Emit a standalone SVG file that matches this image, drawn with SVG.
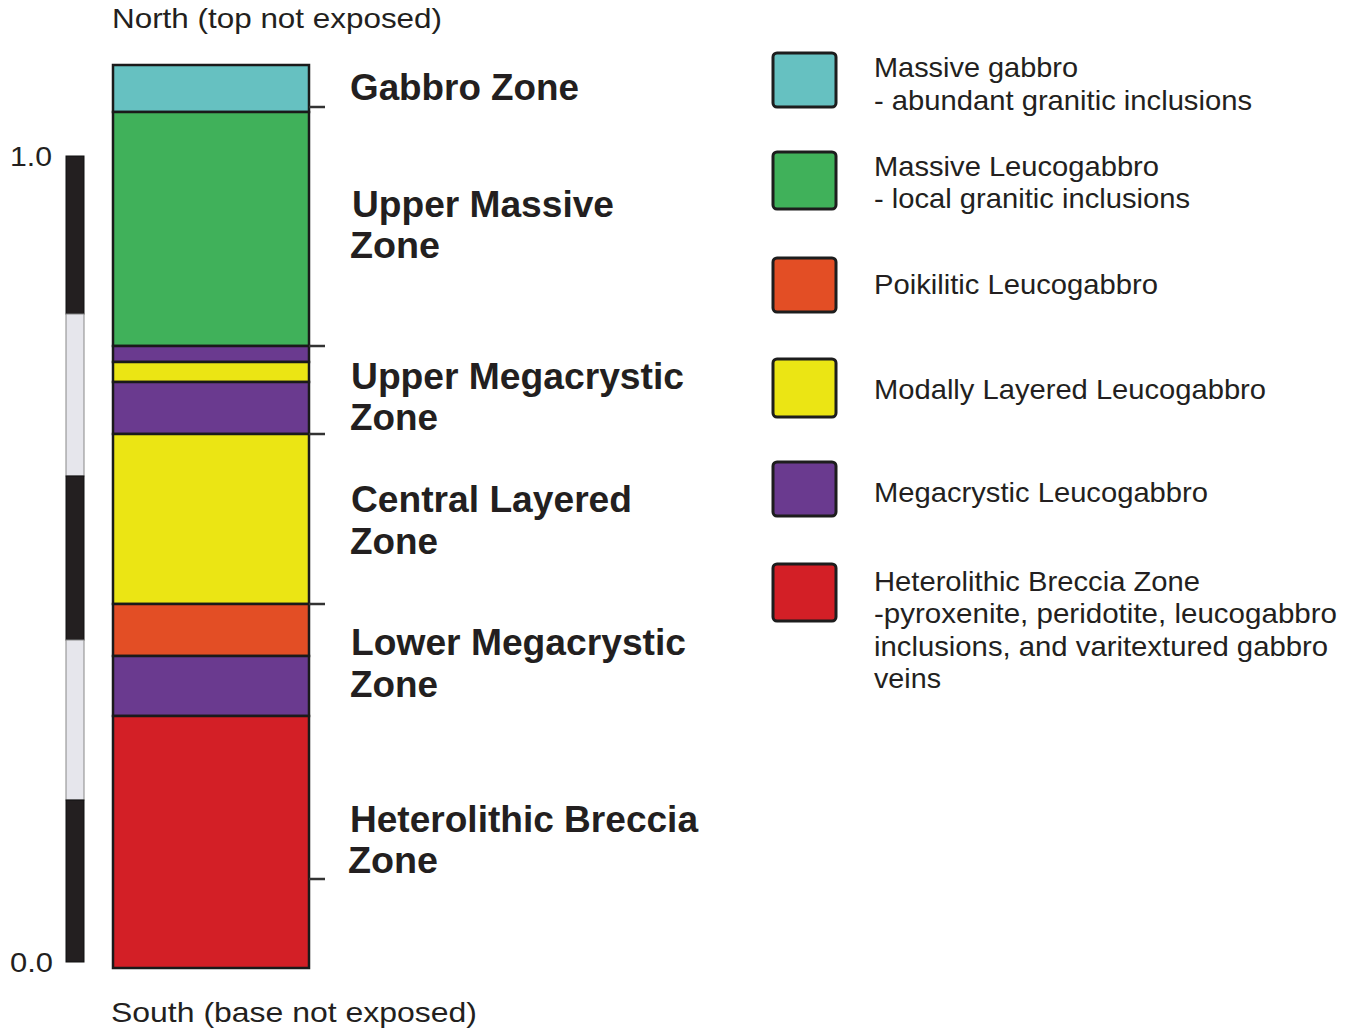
<svg xmlns="http://www.w3.org/2000/svg" width="1351" height="1031" viewBox="0 0 1351 1031">
<style>
.t{font-family:"Liberation Sans",Arial,sans-serif;fill:#231f20}
.reg{font-size:28.5px}
.zone{font-size:36px;font-weight:bold}
.lay{stroke:#1a1a1a;stroke-width:2.5}
.box{stroke:#1d1d1d;stroke-width:3}
.tick{stroke:#333;stroke-width:2.5}
.cy{fill:#66c1c1}.gr{fill:#40b15a}.pu{fill:#6a3a8f}.ye{fill:#ebe514}.or{fill:#e34e25}.re{fill:#d31f26}
</style>
<rect width="1351" height="1031" fill="#fff"/>

<g id="headers">
<text class="t reg" x="112" y="28" textLength="330" lengthAdjust="spacingAndGlyphs">North (top not exposed)</text>
<text class="t reg" x="111" y="1022" textLength="366" lengthAdjust="spacingAndGlyphs">South (base not exposed)</text>
</g>

<g id="scale-bar">
<rect x="66" y="156" width="18" height="158" fill="#231f20" stroke="#111" stroke-width="1"/>
<rect x="66" y="314" width="18" height="162" fill="#e6e6ec" stroke="#888" stroke-width="1"/>
<rect x="66" y="476" width="18" height="164" fill="#231f20" stroke="#111" stroke-width="1"/>
<rect x="66" y="640" width="18" height="160" fill="#e6e6ec" stroke="#888" stroke-width="1"/>
<rect x="66" y="800" width="18" height="162" fill="#231f20" stroke="#111" stroke-width="1"/>
<text class="t reg" x="10" y="166" textLength="42" lengthAdjust="spacingAndGlyphs">1.0</text>
<text class="t reg" x="10" y="972" textLength="43" lengthAdjust="spacingAndGlyphs">0.0</text>
</g>

<g id="column">
<rect id="layer-gabbro" class="lay cy" x="113" y="65" width="196" height="47"/>
<rect id="layer-upper-massive" class="lay gr" x="113" y="112" width="196" height="234"/>
<rect id="layer-mega-1" class="lay pu" x="113" y="346" width="196" height="16"/>
<rect id="layer-layered-1" class="lay ye" x="113" y="362" width="196" height="20"/>
<rect id="layer-mega-2" class="lay pu" x="113" y="382" width="196" height="52"/>
<rect id="layer-central-layered" class="lay ye" x="113" y="434" width="196" height="170"/>
<rect id="layer-poikilitic" class="lay or" x="113" y="604" width="196" height="52"/>
<rect id="layer-lower-mega" class="lay pu" x="113" y="656" width="196" height="60"/>
<rect id="layer-breccia" class="lay re" x="113" y="716" width="196" height="252"/>
</g>

<g id="ticks">
<line class="tick" x1="309" y1="107" x2="325" y2="107"/>
<line class="tick" x1="309" y1="346" x2="325" y2="346"/>
<line class="tick" x1="309" y1="434" x2="325" y2="434"/>
<line class="tick" x1="309" y1="604" x2="325" y2="604"/>
<line class="tick" x1="309" y1="879" x2="325" y2="879"/>
</g>

<g id="zone-gabbro"><text class="t zone" x="350" y="100" textLength="229" lengthAdjust="spacingAndGlyphs">Gabbro Zone</text></g>
<g id="zone-upper-massive">
<text class="t zone" x="352" y="217" textLength="262" lengthAdjust="spacingAndGlyphs">Upper Massive</text>
<text class="t zone" x="350" y="258" textLength="90" lengthAdjust="spacingAndGlyphs">Zone</text>
</g>
<g id="zone-upper-megacrystic">
<text class="t zone" x="351" y="389" textLength="333" lengthAdjust="spacingAndGlyphs">Upper Megacrystic</text>
<text class="t zone" x="350" y="430" textLength="88" lengthAdjust="spacingAndGlyphs">Zone</text>
</g>
<g id="zone-central-layered">
<text class="t zone" x="351" y="512" textLength="281" lengthAdjust="spacingAndGlyphs">Central Layered</text>
<text class="t zone" x="350" y="554" textLength="88" lengthAdjust="spacingAndGlyphs">Zone</text>
</g>
<g id="zone-lower-megacrystic">
<text class="t zone" x="351" y="655" textLength="335" lengthAdjust="spacingAndGlyphs">Lower Megacrystic</text>
<text class="t zone" x="350" y="697" textLength="88" lengthAdjust="spacingAndGlyphs">Zone</text>
</g>
<g id="zone-breccia">
<text class="t zone" x="350" y="832" textLength="348" lengthAdjust="spacingAndGlyphs">Heterolithic Breccia</text>
<text class="t zone" x="348" y="873" textLength="90" lengthAdjust="spacingAndGlyphs">Zone</text>
</g>

<g id="legend-massive-gabbro">
<rect class="box cy" x="773" y="53" width="63" height="54" rx="4"/>
<text class="t reg" x="874" y="77" textLength="204" lengthAdjust="spacingAndGlyphs">Massive gabbro</text>
<text class="t reg" x="874" y="110" textLength="378" lengthAdjust="spacingAndGlyphs">- abundant granitic inclusions</text>
</g>
<g id="legend-massive-leucogabbro">
<rect class="box gr" x="773" y="152" width="63" height="57" rx="4"/>
<text class="t reg" x="874" y="176" textLength="285" lengthAdjust="spacingAndGlyphs">Massive Leucogabbro</text>
<text class="t reg" x="874" y="208" textLength="316" lengthAdjust="spacingAndGlyphs">- local granitic inclusions</text>
</g>
<g id="legend-poikilitic">
<rect class="box or" x="773" y="258" width="63" height="54" rx="4"/>
<text class="t reg" x="874" y="294" textLength="284" lengthAdjust="spacingAndGlyphs">Poikilitic Leucogabbro</text>
</g>
<g id="legend-modally-layered">
<rect class="box ye" x="773" y="359" width="63" height="58" rx="4"/>
<text class="t reg" x="874" y="399" textLength="392" lengthAdjust="spacingAndGlyphs">Modally Layered Leucogabbro</text>
</g>
<g id="legend-megacrystic">
<rect class="box pu" x="773" y="462" width="63" height="54" rx="4"/>
<text class="t reg" x="874" y="502" textLength="334" lengthAdjust="spacingAndGlyphs">Megacrystic Leucogabbro</text>
</g>
<g id="legend-breccia">
<rect class="box re" x="773" y="564" width="63" height="57" rx="4"/>
<text class="t reg" x="874" y="591" textLength="326" lengthAdjust="spacingAndGlyphs">Heterolithic Breccia Zone</text>
<text class="t reg" x="874" y="623" textLength="463" lengthAdjust="spacingAndGlyphs">-pyroxenite, peridotite, leucogabbro</text>
<text class="t reg" x="874" y="656" textLength="454" lengthAdjust="spacingAndGlyphs">inclusions, and varitextured gabbro</text>
<text class="t reg" x="874" y="688" textLength="67" lengthAdjust="spacingAndGlyphs">veins</text>
</g>
</svg>
